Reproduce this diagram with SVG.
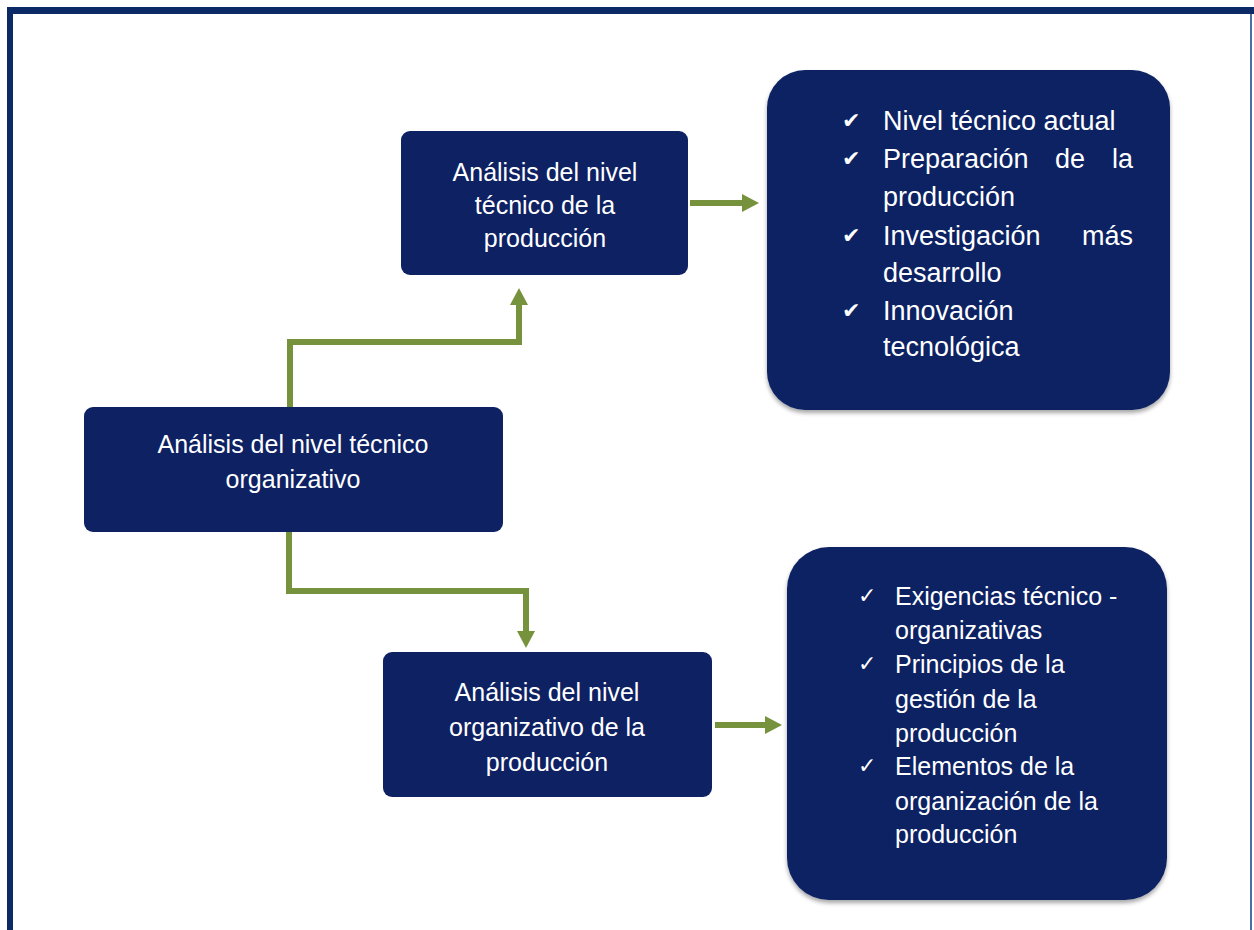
<svg xmlns="http://www.w3.org/2000/svg" width="1254" height="930" viewBox="0 0 1254 930">
  <style>
    .box { fill: #0E2163; }
    .big { fill: #0E2163; }
    .t { font-family: "Liberation Sans", Arial, sans-serif; font-size: 25px; fill: #FFFFFF; }
    .c { text-anchor: middle; }
    .l { font-size: 27px; }
    .e { text-anchor: end; }
    .ck { font-family: "DejaVu Sans", sans-serif; font-size: 22px; fill: #FFFFFF; }
    .conn { fill: none; stroke: #76923C; stroke-width: 6; }
  </style>
  <defs>
    <marker id="ah" markerUnits="userSpaceOnUse" markerWidth="20" markerHeight="20" refX="10" refY="9" orient="auto">
      <path d="M0,0 L17,9 L0,18 z" fill="#76923C"/>
    </marker>
    <filter id="sh" x="-5%" y="-5%" width="110%" height="115%">
      <feDropShadow dx="0" dy="3" stdDeviation="2" flood-color="#000000" flood-opacity="0.35"/>
    </filter>
  </defs>
  <rect x="0" y="0" width="1254" height="930" fill="#FFFFFF"/>
  <!-- frame -->
  <rect x="7" y="7" width="1247" height="7" fill="#0B2A66"/>
  <rect x="7" y="7" width="6" height="923" fill="#0B2A66"/>
  <rect x="1250" y="14" width="2" height="916" fill="#4A6FA5"/>

  <g id="connectors">
    <path class="conn" d="M290,407 V342 H519 V295" marker-end="url(#ah)"/>
    <path class="conn" d="M289,532 V591 H526 V641" marker-end="url(#ah)"/>
    <path class="conn" d="M690,203 H752" marker-end="url(#ah)"/>
    <path class="conn" d="M715,725 H775" marker-end="url(#ah)"/>
  </g>

  <g id="node-tecnico">
    <rect class="box" x="401" y="131" width="287" height="144" rx="9"/>
    <text class="t c" x="545" y="181">Análisis del nivel</text>
    <text class="t c" x="545" y="214">técnico de la</text>
    <text class="t c" x="545" y="247">producción</text>
  </g>

  <g id="node-root">
    <rect class="box" x="84" y="407" width="419" height="125" rx="9"/>
    <text class="t c" x="293" y="453">Análisis del nivel técnico</text>
    <text class="t c" x="293" y="488">organizativo</text>
  </g>

  <g id="node-organizativo">
    <rect class="box" x="383" y="652" width="329" height="145" rx="9"/>
    <text class="t c" x="547" y="701">Análisis del nivel</text>
    <text class="t c" x="547" y="736">organizativo de la</text>
    <text class="t c" x="547" y="771">producción</text>
  </g>

  <g id="node-lista-tecnico">
    <rect class="big" x="767" y="70" width="403" height="340" rx="38" filter="url(#sh)"/>
    <text class="ck" x="842" y="128">✔</text>
    <text class="t l" x="883" y="130">Nivel técnico actual</text>
    <text class="ck" x="842" y="166">✔</text>
    <text class="t l" x="883" y="168">Preparación</text>
    <text class="t l" x="1055" y="168">de</text>
    <text class="t l e" x="1133" y="168">la</text>
    <text class="t l" x="883" y="206">producción</text>
    <text class="ck" x="842" y="243">✔</text>
    <text class="t l" x="883" y="245">Investigación</text>
    <text class="t l e" x="1133" y="245">más</text>
    <text class="t l" x="883" y="282">desarrollo</text>
    <text class="ck" x="842" y="318">✔</text>
    <text class="t l" x="883" y="320">Innovación</text>
    <text class="t l" x="883" y="356">tecnológica</text>
  </g>

  <g id="node-lista-organizativo">
    <rect class="big" x="787" y="547" width="380" height="353" rx="42" filter="url(#sh)"/>
    <text class="ck" x="858" y="603">✓</text>
    <text class="t" x="895" y="605">Exigencias técnico -</text>
    <text class="t" x="895" y="639">organizativas</text>
    <text class="ck" x="858" y="671">✓</text>
    <text class="t" x="895" y="673">Principios de la</text>
    <text class="t" x="895" y="708">gestión de la</text>
    <text class="t" x="895" y="742">producción</text>
    <text class="ck" x="858" y="773">✓</text>
    <text class="t" x="895" y="775">Elementos de la</text>
    <text class="t" x="895" y="810">organización de la</text>
    <text class="t" x="895" y="843">producción</text>
  </g>
</svg>
